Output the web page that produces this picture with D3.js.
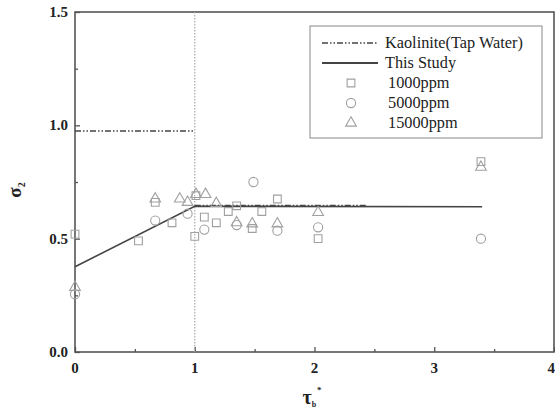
<!DOCTYPE html>
<html>
<head>
<meta charset="utf-8">
<script src="https://cdn.jsdelivr.net/npm/d3@7"></script>
<style>
  body { margin: 0; background: #fff; }
  svg { display: block; }
</style>
</head>
<body>
<svg id="chart" width="555" height="416"></svg>
<script>
// Measured points for each concentration: [tau_b*, sigma_2]
const s1000 = [[0,0.52],[0.53,0.49],[0.67,0.66],[0.81,0.57],[1.0,0.51],[1.01,0.69],[1.08,0.595],[1.18,0.57],[1.28,0.62],[1.35,0.645],[1.48,0.545],[1.56,0.62],[1.69,0.675],[2.03,0.50],[3.39,0.84]];
const s5000 = [[0,0.255],[0.67,0.58],[0.94,0.61],[1.08,0.54],[1.35,0.56],[1.49,0.75],[1.69,0.535],[2.03,0.55],[3.39,0.50]];
const s15000 = [[0,0.29],[0.67,0.68],[0.875,0.68],[0.94,0.665],[1.01,0.70],[1.09,0.70],[1.18,0.66],[1.35,0.575],[1.48,0.57],[1.69,0.57],[2.03,0.62],[3.39,0.82]];
// Fitted relation of this study and the tap-water kaolinite reference
const thisStudy = [[0,0.376],[1,0.643],[3.4,0.641]];
const kaoliniteUpper = [[0,0.975],[1,0.975]];
const kaoliniteLower = [[1,0.646],[2.44,0.646]];
const xTicks = [0,1,2,3,4];
const yTicks = [0.0,0.5,1.0,1.5];
const legendItems = ["Kaolinite(Tap Water)","This Study","1000ppm","5000ppm","15000ppm"];

const svg = d3.select("#chart");
const x = d3.scaleLinear().domain([0,4]).range([75,554]);
const y = d3.scaleLinear().domain([0,1.5]).range([352,12]);
const axisColor = "#555";
const lineColor = "#444";
const markColor = "#a0a0a0";
const serif = "'Liberation Serif','Times New Roman',serif";

// Plot frame
svg.append("rect").attr("x",x(0)).attr("y",y(1.5)).attr("width",x(4)-x(0)).attr("height",y(0)-y(1.5))
  .attr("fill","none").attr("stroke",axisColor).attr("stroke-width",1.6);

// Inward ticks
const xAxis = d3.axisBottom(x).tickValues(d3.range(0,4.01,0.5)).tickSize(-5).tickFormat("");
const gx = svg.append("g").attr("transform",`translate(0,${y(0)})`).call(xAxis);
gx.select(".domain").remove();
gx.selectAll(".tick line").attr("stroke",axisColor).attr("stroke-width",1.3)
  .attr("y2",(d)=> Number.isInteger(d) ? -5 : -3);
const yAxis = d3.axisLeft(y).tickValues(d3.range(0,1.51,0.25)).tickSize(-5).tickFormat("");
const gy = svg.append("g").attr("transform",`translate(${x(0)},0)`).call(yAxis);
gy.select(".domain").remove();
gy.selectAll(".tick line").attr("stroke",axisColor).attr("stroke-width",1.3)
  .attr("x2",(d)=> Math.abs(d*2-Math.round(d*2))<1e-6 ? 5 : 3);

// Tick labels (the last one is kept inside the canvas edge)
svg.append("g").selectAll("text").data(xTicks).join("text")
  .attr("x",d=> d===4 ? 555 : x(d)).attr("y",y(0)+21)
  .attr("text-anchor",d=> d===4 ? "end" : "middle")
  .attr("font-family",serif).attr("font-weight","bold").attr("font-size",15).attr("fill","#222")
  .text(d=>d);
svg.append("g").selectAll("text").data(yTicks).join("text")
  .attr("x",x(0)-7).attr("y",d=>y(d)+5).attr("text-anchor","end")
  .attr("font-family",serif).attr("font-weight","bold").attr("font-size",15).attr("fill","#222")
  .text(d=>d.toFixed(1));

// Axis titles
const yt = svg.append("text").attr("transform","translate(21,190) rotate(-90)")
  .attr("text-anchor","middle").attr("font-family",serif).attr("font-weight","bold").attr("font-size",19).attr("fill","#222");
yt.append("tspan").text("σ");
yt.append("tspan").attr("font-size",10).attr("dy",4).text("2");
const xt = svg.append("text").attr("x",312).attr("y",404)
  .attr("text-anchor","middle").attr("font-family",serif).attr("font-weight","bold").attr("font-size",20).attr("fill","#222");
xt.append("tspan").text("τ");
xt.append("tspan").attr("font-size",8).attr("dy",3).text("b");
xt.append("tspan").attr("font-size",9).attr("dy",-14).attr("dx",1).text("*");

// Vertical dotted guide at tau_b* = 1
svg.append("line").attr("x1",x(1)).attr("x2",x(1)).attr("y1",y(1.5)).attr("y2",y(0))
  .attr("stroke","#aaa").attr("stroke-width",1.2).attr("stroke-dasharray","1.5,1.5");

const line = d3.line().x(d=>x(d[0])).y(d=>y(d[1]));
svg.append("path").datum(thisStudy).attr("d",line).attr("fill","none").attr("stroke",lineColor).attr("stroke-width",1.6);
const kaoDash = "6,2,1.5,2,1.5,2";
[kaoliniteUpper,kaoliniteLower].forEach(seg=>{
  svg.append("path").datum(seg).attr("d",line).attr("fill","none").attr("stroke",lineColor)
    .attr("stroke-width",1.6).attr("stroke-dasharray",kaoDash);
});

// Markers
const sq = d3.symbol().type(d3.symbolSquare).size(60);
const ci = d3.symbol().type(d3.symbolCircle).size(66);
const tr = d3.symbol().type(d3.symbolTriangle).size(50);
function drawMarks(data, sym, dy) {
  svg.append("g").selectAll("path").data(data).join("path")
    .attr("d",sym).attr("transform",d=>`translate(${x(d[0])},${y(d[1])+dy})`)
    .attr("fill","none").attr("stroke",markColor).attr("stroke-width",1.1);
}
drawMarks(s1000, sq, 0);
drawMarks(s5000, ci, 0);
drawMarks(s15000, tr, 1);

// Legend
const lg = svg.append("g");
lg.append("rect").attr("x",310).attr("y",26).attr("width",232).attr("height",112)
  .attr("fill","#fff").attr("stroke","#888").attr("stroke-width",1);
const rowY = [43,63,83,103,123];
lg.append("line").attr("x1",322).attr("x2",378).attr("y1",rowY[0]).attr("y2",rowY[0])
  .attr("stroke",lineColor).attr("stroke-width",1.4).attr("stroke-dasharray",kaoDash);
lg.append("line").attr("x1",322).attr("x2",378).attr("y1",rowY[1]).attr("y2",rowY[1])
  .attr("stroke",lineColor).attr("stroke-width",1.8);
[sq,ci,tr].forEach((s,i)=>{
  lg.append("path").attr("d",s).attr("transform",`translate(351,${rowY[i+2]})`)
    .attr("fill","none").attr("stroke",markColor).attr("stroke-width",1.1);
});
lg.selectAll("text").data(legendItems).join("text")
  .attr("x",(d,i)=> i<2 ? 385 : 388).attr("y",(d,i)=>rowY[i]+5)
  .attr("font-family",serif).attr("font-size",16.3).attr("fill","#222").text(d=>d);
</script>
</body>
</html>
